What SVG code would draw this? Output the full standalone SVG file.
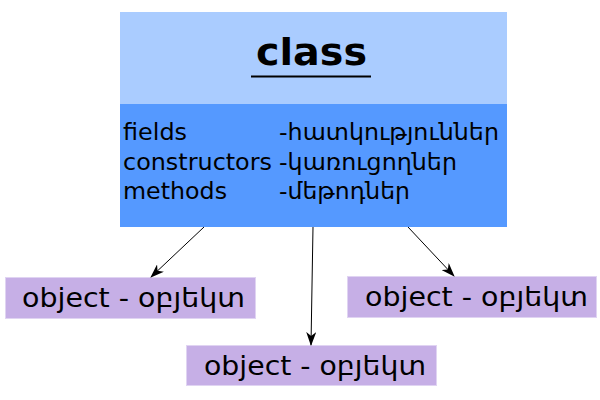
<svg xmlns="http://www.w3.org/2000/svg" width="600" height="400" viewBox="0 0 600 400">
<style>
text{font-family:"DejaVu Sans","Noto Sans",sans-serif;fill:#000}
.row{font-size:22.5px}
.obj rect{fill:#c6afe6;stroke:#e0d4f2;stroke-width:1}
.obj text{font-size:26px}
.conn line{stroke:#000;stroke-width:1;marker-end:url(#ah)}
</style>
<defs>
<marker id="ah" viewBox="0 0 14 10" refX="13" refY="5" markerWidth="14" markerHeight="10" markerUnits="userSpaceOnUse" orient="auto">
<path d="M0,0 L14,5 L0,10 L4,5 Z" fill="#000"/>
</marker>
</defs>
<g id="class">
<rect x="120" y="12" width="387" height="93" fill="#aaccff"/>
<rect x="120" y="104" width="387" height="123" fill="#5599ff"/>
<text x="256" y="65" font-size="38" font-weight="bold" textLength="111" lengthAdjust="spacingAndGlyphs">class</text>
<line x1="251" y1="76.5" x2="371" y2="76.5" stroke="#000" stroke-width="2"/>
<text class="row" x="123" y="140" textLength="64" lengthAdjust="spacingAndGlyphs">fields</text>
<text class="row" x="123" y="169.5" textLength="149" lengthAdjust="spacingAndGlyphs">constructors</text>
<text class="row" x="123" y="199" textLength="104" lengthAdjust="spacingAndGlyphs">methods</text>
<text class="row" x="279" y="140" textLength="220" lengthAdjust="spacingAndGlyphs">-հատկություններ</text>
<text class="row" x="279" y="169.5" textLength="178" lengthAdjust="spacingAndGlyphs">-կառուցողներ</text>
<text class="row" x="279" y="199" textLength="131" lengthAdjust="spacingAndGlyphs">-մեթոդներ</text>
</g>
<g id="obj1" class="obj">
<rect x="5.5" y="277.5" width="250" height="41"/>
<text x="22" y="307" textLength="223" lengthAdjust="spacingAndGlyphs">object - օբյեկտ</text>
</g>
<g id="obj2" class="obj">
<rect x="186.5" y="345.5" width="250" height="40"/>
<text x="204" y="375" textLength="222" lengthAdjust="spacingAndGlyphs">object - օբյեկտ</text>
</g>
<g id="obj3" class="obj">
<rect x="347.5" y="276.5" width="249" height="41"/>
<text x="365" y="306" textLength="223" lengthAdjust="spacingAndGlyphs">object - օբյեկտ</text>
</g>
<g class="conn">
<line x1="204" y1="227" x2="151" y2="277"/>
<line x1="313" y1="227" x2="311" y2="345"/>
<line x1="408" y1="227" x2="454" y2="276"/>
</g>
</svg>
